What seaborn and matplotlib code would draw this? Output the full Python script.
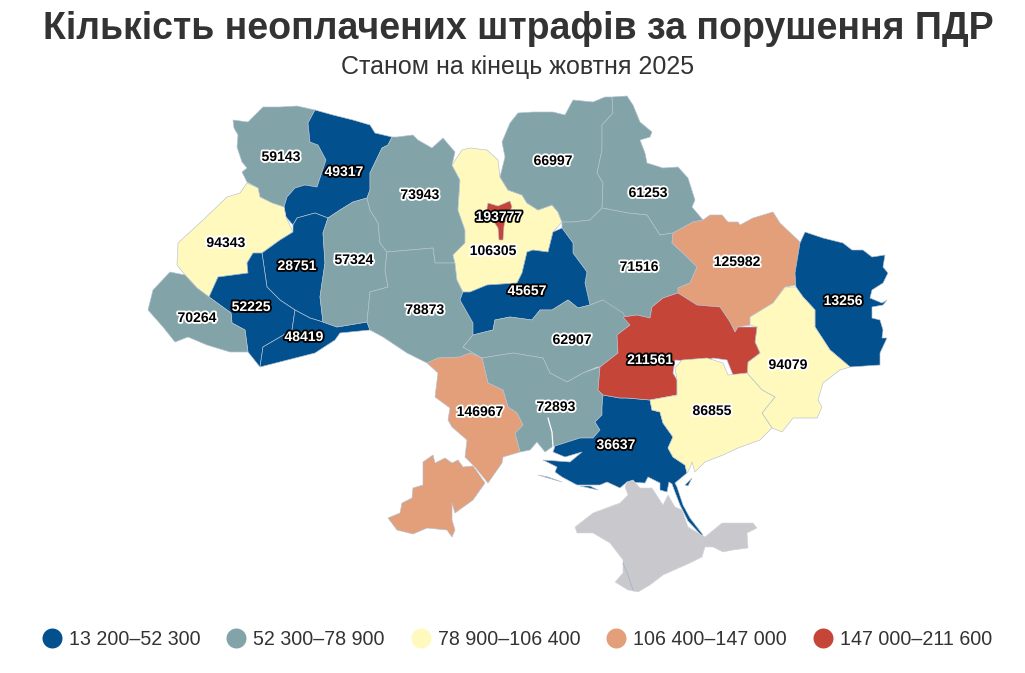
import pandas as pd
import numpy as np
import matplotlib
matplotlib.use("Agg")
import matplotlib.pyplot as plt
import matplotlib.patheffects as pe
from matplotlib.lines import Line2D
import seaborn as sns

# --- DATA ---
region_names = ["volyn", "rivne", "lviv", "ternopil", "frankivsk", "chernivtsi", "zakarpattia",
                "khmelnytskyi", "zhytomyr", "vinnytsia", "kyiv_obl", "kyiv_city", "chernihiv",
                "sumy", "poltava", "cherkasy", "kirovohrad", "mykolaiv", "odesa", "kherson",
                "kharkiv", "luhansk", "donetsk", "dnipro", "zaporizhzhia"]
region_values = [59143, 49317, 94343, 28751, 52225, 48419, 70264,
                 57324, 73943, 78873, 106305, 193777, 66997,
                 61253, 71516, 45657, 62907, 72893, 146967, 36637,
                 125982, 13256, 94079, 211561, 86855]
label_x = [281, 344, 226, 297, 251, 304, 197, 354, 420, 425, 493, 499, 553,
           648, 639, 527, 572, 556, 480, 616, 737, 843, 788, 650, 712]
label_y = [157, 172, 243, 266, 307, 337, 318, 260, 195, 310, 251, 217, 161,
           193, 267, 291, 340, 407, 412, 445, 262, 301, 365, 360, 411]

bin_edges = [13200, 52300, 78900, 106400, 147000, 211600]
bin_labels = ["13 200–52 300", "52 300–78 900", "78 900–106 400", "106 400–147 000", "147 000–211 600"]
bin_colors = ["#03508f", "#82a4a8", "#fff9bd", "#e29f7a", "#c54538"]
white_text_bins = [0, 4]

# region outlines
volyn = [(233,120),(248,122),(255,115),(263,107),(280,107),(297,106),(315,110),(308,123),(310,142),(318,145),(326,160),(317,187),(305,185),(295,188),(287,197),(284,207),(272,203),(260,197),(258,188),(247,182),(242,172),(247,168),(242,162),(237,147),(238,135),(234,128)]
rivne = [(315,110),(333,115),(353,120),(370,125),(375,133),(392,137),(388,145),(382,148),(370,173),(370,190),(367,198),(353,202),(340,210),(328,218),(315,213),(297,218),(293,225),(286,217),(284,207),(287,197),(295,188),(305,185),(317,187),(326,160),(318,145),(310,142),(308,123)]
lviv = [(247,183),(258,188),(260,197),(272,203),(284,207),(286,217),(293,232),(280,240),(262,253),(253,253),(247,263),(248,273),(218,277),(209,297),(197,288),(185,275),(177,265),(178,243),(203,220),(227,197),(240,193)]
ternopil = [(293,225),(297,218),(315,213),(328,218),(323,233),(325,263),(320,297),(323,322),(310,318),(295,310),(280,300),(267,287),(262,253),(280,240),(293,232)]
frankivsk = [(253,253),(262,253),(267,287),(280,300),(295,310),(292,330),(263,347),(260,367),(248,352),(245,330),(232,323),(231,313),(209,297),(218,277),(248,273),(247,263)]
chernivtsi = [(295,310),(310,318),(323,322),(337,327),(367,322),(370,330),(340,333),(335,340),(315,353),(260,367),(263,347),(292,330)]
zakarpattia = [(170,272),(185,275),(197,288),(209,297),(231,313),(232,323),(245,330),(248,352),(230,352),(207,345),(188,337),(175,342),(163,327),(148,310),(153,290)]
khmelnytskyi = [(328,218),(340,210),(353,202),(367,198),(370,210),(378,223),(380,243),(387,252),(385,270),(388,287),(370,292),(367,322),(337,327),(323,322),(320,297),(325,263),(323,233)]
zhytomyr = [(392,137),(397,137),(413,135),(418,140),(432,148),(443,138),(455,152),(452,165),(460,180),(458,210),(465,230),(465,243),(453,255),(455,263),(435,263),(433,248),(387,252),(380,243),(378,223),(370,210),(367,198),(370,190),(370,173),(382,148),(388,145)]
vinnytsia = [(387,252),(433,248),(435,263),(455,263),(457,280),(463,292),(460,300),(473,323),(473,335),(463,347),(482,358),(470,353),(460,357),(438,358),(427,363),(407,353),(383,337),(370,330),(367,322),(370,292),(388,287),(385,270)]
kyiv_obl = [(452,165),(462,150),(470,148),(487,150),(498,160),(500,177),(508,190),(522,195),(527,203),(538,210),(552,205),(558,212),(562,222),(553,232),(548,252),(533,250),(527,252),(522,273),(517,283),(487,285),(470,292),(463,292),(457,280),(455,263),(453,255),(465,243),(465,230),(458,210),(460,180)]
kyiv_city = [(488,203),(498,206),(510,201),(512,207),(506,218),(504,226),(503,240),(499,240),(498,228),(494,222),(488,215),(487,208)]
chernihiv = [(502,142),(510,123),(518,113),(533,112),(553,112),(565,115),(573,100),(593,102),(605,97),(612,97),(613,113),(602,125),(602,150),(597,173),(603,183),(602,208),(590,220),(573,222),(562,222),(558,212),(552,205),(538,210),(527,203),(522,195),(508,190),(500,177),(505,157)]
sumy = [(612,97),(627,96),(633,105),(640,122),(652,132),(650,137),(640,140),(645,153),(647,163),(663,168),(678,167),(688,178),(695,200),(692,207),(703,220),(693,222),(673,233),(660,235),(647,215),(628,213),(602,208),(603,183),(597,173),(602,150),(602,125),(613,113)]
poltava = [(562,222),(573,222),(590,220),(602,208),(628,213),(647,215),(660,235),(673,233),(672,243),(685,255),(697,267),(690,283),(678,288),(678,293),(663,298),(652,307),(650,318),(637,315),(623,317),(630,325),(617,335),(603,300),(590,305),(585,283),(587,272),(573,253),(573,243),(562,228)]
cherkasy = [(562,228),(573,243),(573,253),(587,272),(585,283),(590,305),(578,308),(568,300),(552,310),(540,310),(532,320),(510,317),(495,320),(493,330),(473,335),(473,323),(460,300),(463,292),(470,292),(487,285),(517,283),(522,273),(527,252),(533,250),(548,252),(553,232)]
kirovohrad = [(473,335),(493,330),(495,320),(510,317),(532,320),(540,310),(552,310),(568,300),(578,308),(590,305),(603,300),(623,313),(630,325),(617,335),(618,353),(600,367),(597,367),(583,373),(567,382),(550,373),(543,358),(513,353),(482,358),(463,347)]
mykolaiv = [(482,358),(513,353),(543,358),(550,373),(567,382),(583,373),(600,367),(598,390),(603,395),(602,407),(602,415),(595,422),(600,430),(593,438),(580,438),(555,446),(552,447),(545,452),(537,442),(530,450),(520,452),(515,433),(523,425),(517,413),(508,407),(503,390),(488,383)]
odesa_north = [(427,363),(438,358),(460,357),(470,353),(482,358),(488,383),(503,390),(508,407),(517,413),(523,425),(515,433),(520,452),(503,457),(502,463),(488,483),(475,467),(465,457),(467,440),(452,427),(448,420),(450,408),(435,397),(438,373)]
odesa_south = [(423,462),(433,455),(435,463),(445,458),(452,463),(458,460),(463,467),(473,466),(485,483),(473,500),(455,513),(452,503),(452,520),(455,530),(452,537),(447,530),(427,528),(413,534),(397,530),(388,518),(400,513),(402,503),(412,498),(413,488),(423,485)]
kherson = [(603,395),(620,398),(627,398),(650,400),(652,410),(660,412),(663,423),(673,437),(668,448),(673,457),(685,465),(687,473),(675,483),(677,487),(683,505),(690,518),(703,535),(702,536),(688,521),(680,505),(675,492),(672,484),(669,482),(667,492),(660,490),(660,483),(648,477),(645,483),(627,482),(620,488),(607,482),(600,485),(577,485),(562,477),(555,472),(557,467),(543,460),(557,461),(570,462),(582,452),(565,457),(553,452),(555,446),(580,438),(593,438),(600,430),(595,422),(602,415),(602,407)]
kherson_isle_a = [(538,475),(562,482),(548,477)]
kherson_isle_b = [(580,486),(598,490),(590,486)]
kherson_isle_c = [(685,485),(692,478),(688,486)]
kharkiv = [(673,233),(693,222),(703,220),(710,215),(722,215),(728,222),(738,222),(740,225),(753,218),(773,212),(780,223),(800,242),(795,277),(796,285),(785,287),(773,303),(750,317),(750,325),(738,327),(735,332),(730,322),(720,307),(697,305),(678,293),(678,288),(690,283),(697,267),(685,255),(672,243)]
luhansk = [(805,232),(823,238),(843,243),(852,250),(863,250),(872,257),(885,255),(883,267),(888,273),(883,283),(872,290),(870,298),(882,303),(887,300),(883,305),(872,307),(872,318),(880,320),(883,330),(882,338),(887,338),(880,353),(880,365),(850,367),(830,350),(815,327),(815,310),(803,297),(796,288),(795,273),(800,243)]
donetsk = [(785,287),(796,287),(803,297),(815,310),(815,327),(830,350),(850,367),(840,370),(823,383),(818,400),(822,407),(817,418),(793,418),(782,432),(772,428),(762,413),(775,397),(762,390),(747,373),(747,375),(748,362),(760,353),(755,342),(757,327),(750,325),(750,317),(773,303)]
dnipro = [(678,293),(697,305),(720,307),(730,322),(735,332),(738,327),(757,327),(755,342),(760,353),(748,362),(747,375),(733,375),(727,360),(713,358),(703,362),(675,360),(673,373),(677,380),(677,395),(650,400),(627,398),(620,398),(603,395),(598,390),(600,367),(618,353),(617,335),(630,325),(623,317),(637,315),(650,318),(652,307),(663,298)]
zaporizhzhia = [(650,400),(677,395),(677,380),(675,368),(682,360),(707,358),(723,363),(728,375),(747,373),(762,390),(775,397),(762,413),(772,428),(760,440),(738,448),(723,455),(705,462),(695,472),(692,462),(690,468),(687,473),(685,465),(673,457),(668,448),(673,437),(663,423),(660,412),(652,410)]
crimea = [(627,482),(633,480),(640,488),(652,488),(663,505),(668,495),(675,507),(682,510),(688,527),(705,537),(722,523),(737,523),(753,523),(757,528),(747,533),(748,548),(733,550),(723,552),(713,547),(705,547),(702,557),(690,563),(663,575),(650,585),(638,592),(628,590),(615,582),(623,573),(623,560),(610,543),(593,533),(577,533),(575,527),(593,513),(620,503),(628,495),(625,487)]
sevastopol_line = [(623,563),(628,575),(633,590)]
estuary_line = [(548,418),(552,432),(553,447)]

# --- DRAW ORDER --- (outline lists, index into region_names)
outlines = {"volyn": [volyn], "rivne": [rivne], "lviv": [lviv], "ternopil": [ternopil], "frankivsk": [frankivsk],
            "chernivtsi": [chernivtsi], "zakarpattia": [zakarpattia], "khmelnytskyi": [khmelnytskyi],
            "zhytomyr": [zhytomyr], "vinnytsia": [vinnytsia], "kyiv_obl": [kyiv_obl], "kyiv_city": [kyiv_city],
            "chernihiv": [chernihiv], "sumy": [sumy], "poltava": [poltava], "cherkasy": [cherkasy],
            "kirovohrad": [kirovohrad], "mykolaiv": [mykolaiv], "odesa": [odesa_north, odesa_south],
            "kherson": [kherson, kherson_isle_a, kherson_isle_b, kherson_isle_c], "kharkiv": [kharkiv],
            "luhansk": [luhansk], "donetsk": [donetsk], "dnipro": [dnipro], "zaporizhzhia": [zaporizhzhia]}

df = pd.DataFrame({"region": region_names, "value": region_values, "x": label_x, "y": label_y})
df["bin"] = pd.cut(df["value"], bins=bin_edges, labels=False, include_lowest=True)

sns.set_theme(style="white")
plt.rcParams['font.family'] = ['Liberation Sans', 'DejaVu Sans']

fig = plt.figure(figsize=(10.25, 6.73), dpi=100)
ax = fig.add_axes([0, 0, 1, 1])
ax.set_xlim(0, 1025)
ax.set_ylim(673, 0)
ax.axis("off")

EDGE = "#b4c2d2"
px = 0.72  # points per pixel

for _, row in df.iterrows():
    for shape in outlines[row["region"]]:
        xs, ys = zip(*shape)
        ax.fill(xs, ys, facecolor=bin_colors[row["bin"]], edgecolor=EDGE, linewidth=0.45, joinstyle="round")

xs, ys = zip(*crimea)
ax.fill(xs, ys, facecolor="#c9c9cd", edgecolor="#d4d6dc", linewidth=0.4)
xs, ys = zip(*sevastopol_line)
ax.plot(xs, ys, color="#a9b6cc", linewidth=0.7)
xs, ys = zip(*estuary_line)
ax.plot(xs, ys, color="white", linewidth=0.9)

for _, row in df.iterrows():
    light = row["bin"] in white_text_bins
    ax.text(row["x"], row["y"], str(row["value"]), ha="center", va="center", fontsize=14 * px,
            fontweight="bold", color="white" if light else "black",
            path_effects=[pe.withStroke(linewidth=2.6, foreground="black" if light else "white")])

ax.text(518.5, 29, "Кількість неоплачених штрафів за порушення ПДР", ha="center", va="center",
        fontsize=37.5 * px, fontweight="bold", color="#333333")
ax.text(518, 67, "Станом на кінець жовтня 2025", ha="center", va="center",
        fontsize=25 * px, color="#333333")

handles = [Line2D([], [], linestyle="none", marker="o", markersize=20 * px, markerfacecolor=c,
                  markeredgecolor="none", label=l) for c, l in zip(bin_colors, bin_labels)]
leg = ax.legend(handles=handles, ncol=5, frameon=False, loc="center", bbox_to_anchor=(516 / 1025, 1 - 639.5 / 673),
                fontsize=19.7 * px, labelcolor="#333333", handletextpad=0.26, columnspacing=1.23,
                handlelength=1.2, borderpad=0)

fig.savefig("out.png", dpi=100)
